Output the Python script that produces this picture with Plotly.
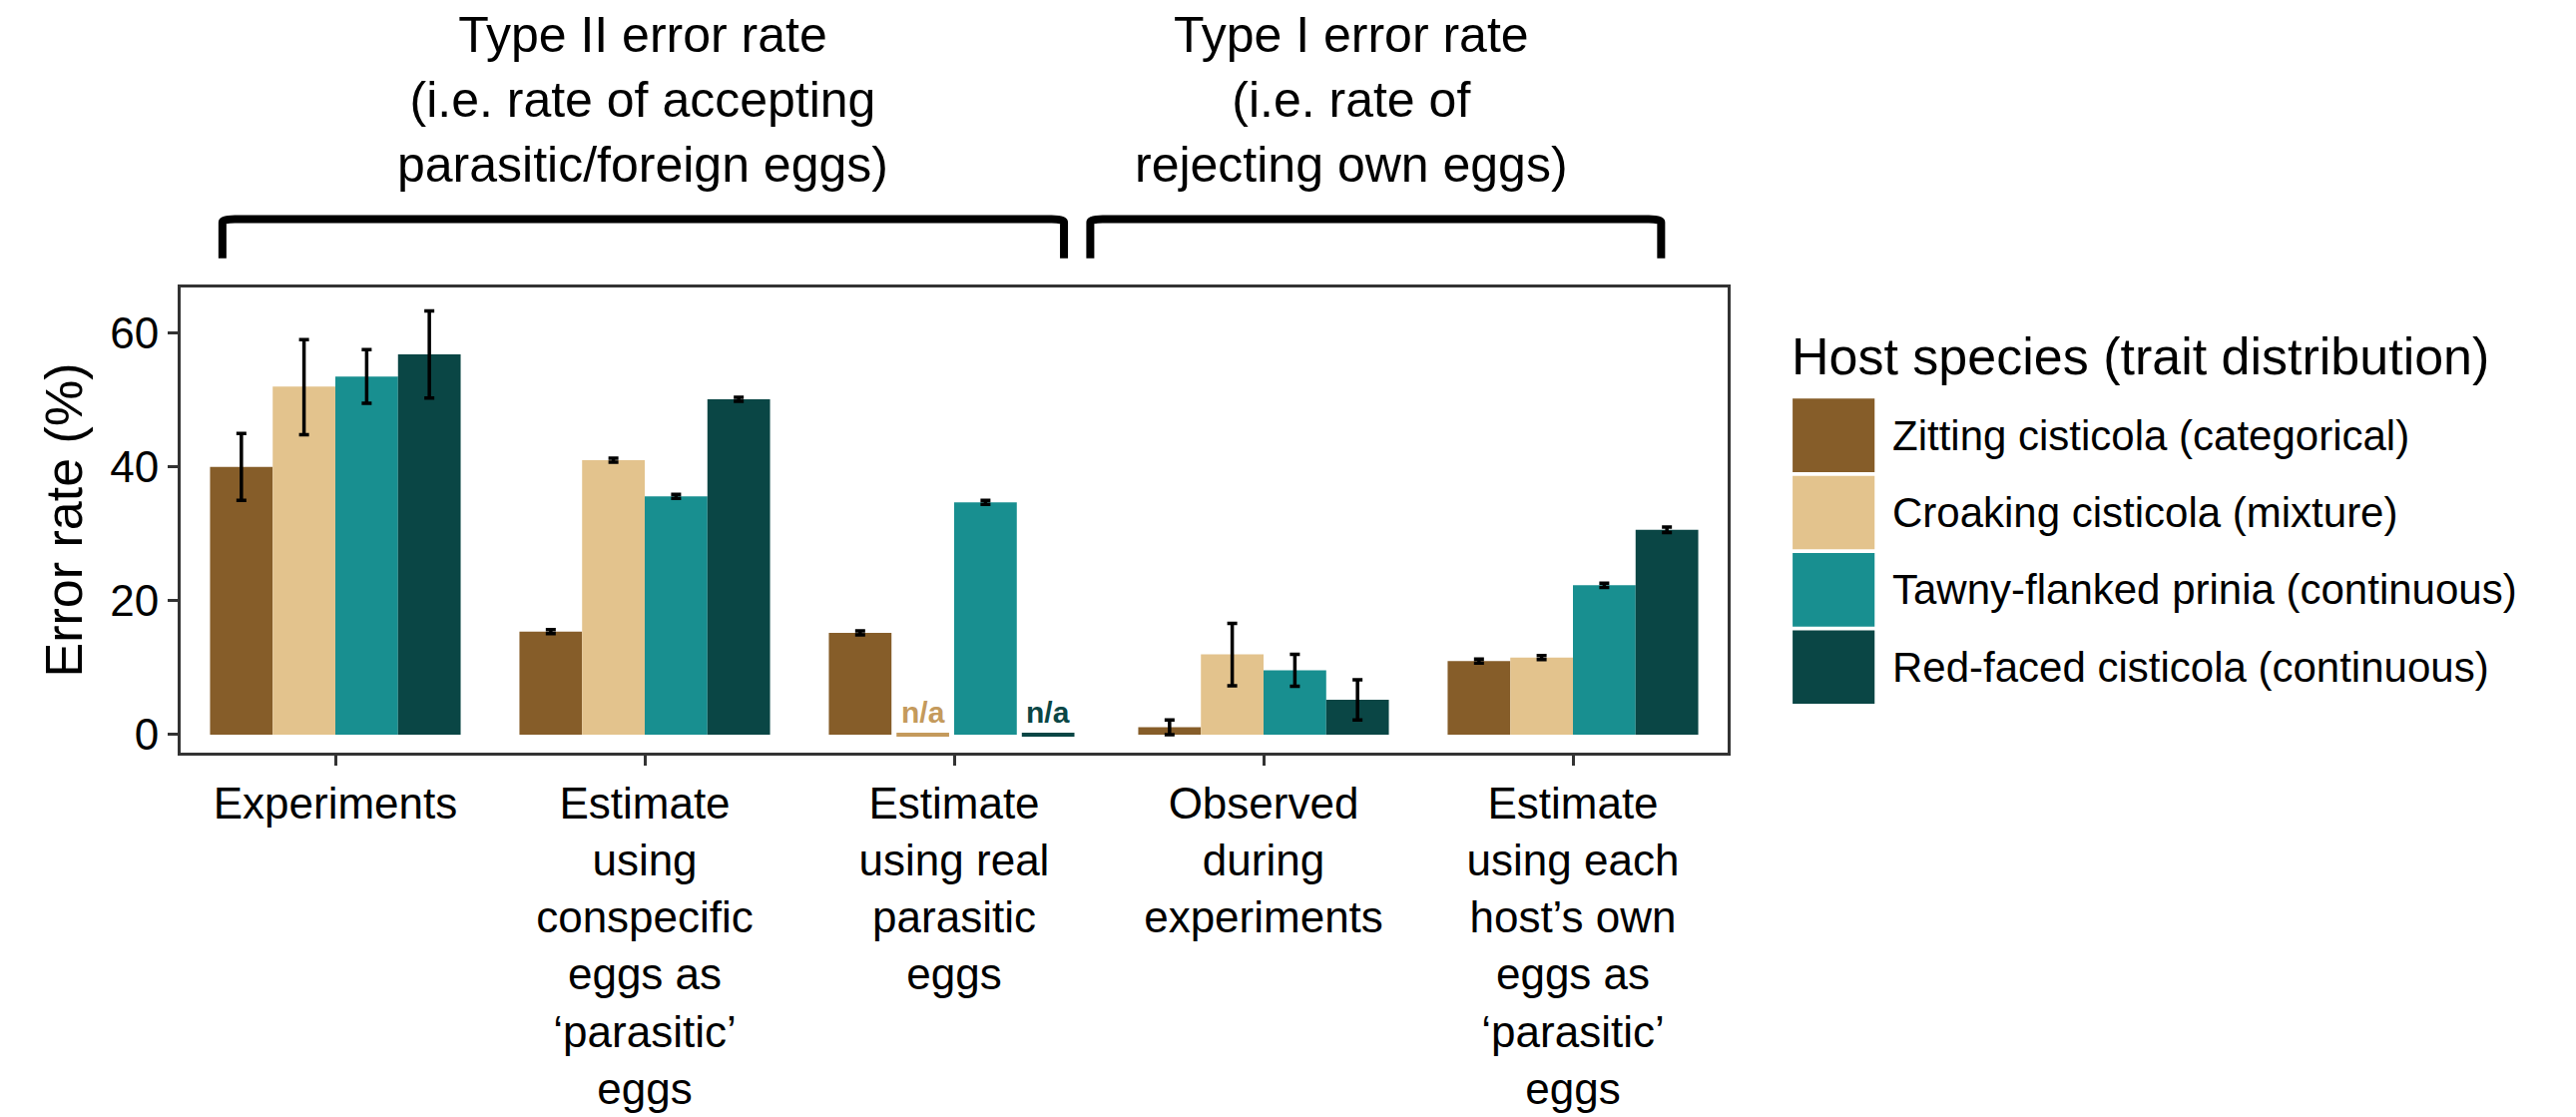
import plotly.graph_objects as go

categories = ["Experiments",
              "Estimate<br>using<br>conspecific<br>eggs as<br>\u2018parasitic\u2019<br>eggs",
              "Estimate<br>using real<br>parasitic<br>eggs",
              "Observed<br>during<br>experiments",
              "Estimate<br>using each<br>host\u2019s own<br>eggs as<br>\u2018parasitic\u2019<br>eggs"]
species = ["Zitting cisticola (categorical)", "Croaking cisticola (mixture)",
           "Tawny-flanked prinia (continuous)", "Red-faced cisticola (continuous)"]
colors = ["#865d29", "#e3c38d", "#188f90", "#0a4645"]

zitting = [40.0, 15.4, 15.2, 1.1, 11.0]
zitting_lo = [35.0, 15.1, 14.9, 0.0, 10.7]
zitting_hi = [45.0, 15.7, 15.5, 2.2, 11.3]
croaking = [52.0, 41.0, None, 12.0, 11.5]
croaking_lo = [44.8, 40.7, None, 7.3, 11.2]
croaking_hi = [59.0, 41.3, None, 16.6, 11.8]
tawny = [53.5, 35.6, 34.7, 9.6, 22.3]
tawny_lo = [49.5, 35.3, 34.4, 7.2, 22.0]
tawny_hi = [57.5, 35.9, 35.0, 12.0, 22.6]
redfaced = [56.8, 50.1, None, 5.2, 30.6]
redfaced_lo = [50.3, 49.8, None, 2.2, 30.2]
redfaced_hi = [63.3, 50.4, None, 8.2, 31.0]

series = [(zitting, zitting_lo, zitting_hi), (croaking, croaking_lo, croaking_hi),
          (tawny, tawny_lo, tawny_hi), (redfaced, redfaced_lo, redfaced_hi)]

FONT = "Liberation Sans, Arial, sans-serif"
fig = go.Figure()
for name, col, (v, lo, hi) in zip(species, colors, series):
    plus = [None if a is None else h - a for a, h in zip(v, hi)]
    minus = [None if a is None else a - l for a, l in zip(v, lo)]
    fig.add_trace(go.Bar(x=categories, y=v, name=name, marker_color=col,
                         marker_line_width=0, showlegend=False,
                         error_y=dict(type="data", array=plus, arrayminus=minus,
                                      color="black", thickness=3.5, width=5)))

bw = (1 - 0.19) / 4
na_colors = ["#c49a5c", colors[3]]
for k, col in zip([1, 3], na_colors):
    xc = 2 + (k - 1.5) * bw
    fig.add_annotation(x=xc, y=0, yanchor="bottom", text="<b>n/a</b>", showarrow=False,
                       font=dict(size=30, color=col, family=FONT), yshift=4)
    fig.add_shape(type="line", x0=xc - 0.085, x1=xc + 0.085, y0=0, y1=0,
                  line=dict(color=col, width=4))

# brackets
for x0, x1 in [(0.027, 0.571), (0.588, 0.957)]:
    fig.add_shape(type="path", xref="paper", yref="paper",
                  path=f"M {x0} 1.063 L {x0} 1.14 Q {x0} 1.147 {x0+0.008} 1.147 "
                       f"L {x1-0.008} 1.147 Q {x1} 1.147 {x1} 1.14 L {x1} 1.063",
                  line=dict(color="black", width=8))
fig.add_annotation(x=0.299, y=1.2, xref="paper", yref="paper", yanchor="bottom", xanchor="center",
                   text="Type II error rate<br>(i.e. rate of accepting<br>parasitic/foreign eggs)",
                   showarrow=False, font=dict(size=50, color="black", family=FONT))
fig.add_annotation(x=0.757, y=1.2, xref="paper", yref="paper", yanchor="bottom", xanchor="center",
                   text="Type I error rate<br>(i.e. rate of<br>rejecting own eggs)",
                   showarrow=False, font=dict(size=50, color="black", family=FONT))

# legend drawn by hand (large keys)
fig.add_annotation(x=1.04, y=0.853, xref="paper", yref="paper", xanchor="left", yanchor="middle",
                   text="Host species (trait distribution)", showarrow=False,
                   font=dict(size=52, color="black", family=FONT))
for i, (name, col) in enumerate(zip(species, colors)):
    top = 0.761 - i * 0.166
    fig.add_shape(type="rect", xref="paper", yref="paper", x0=1.042, x1=1.095,
                  y0=top - 0.158, y1=top, fillcolor=col, line_width=0)
    fig.add_annotation(x=1.105, y=top - 0.079, xref="paper", yref="paper", xanchor="left",
                       yanchor="middle", text=name, showarrow=False,
                       font=dict(size=42, color="black", family=FONT))

fig.update_layout(
    width=2581, height=1119, barmode="group", bargap=0.19, bargroupgap=0,
    plot_bgcolor="white", paper_bgcolor="white",
    margin=dict(l=173, r=858, t=280, b=370),
    font=dict(family=FONT, color="black"),
    showlegend=False,
)
fig.update_xaxes(showline=True, mirror=True, linecolor="#333333", linewidth=3,
                 ticks="outside", ticklen=10, tickwidth=3, tickcolor="#333333",
                 tickfont=dict(size=44, color="black"))
fig.update_yaxes(range=[-2.7, 66.8], tickvals=[0, 20, 40, 60], showgrid=False, zeroline=False,
                 showline=True, mirror=True, linecolor="#333333", linewidth=3,
                 ticks="outside", ticklen=10, tickwidth=3, tickcolor="#333333",
                 tickfont=dict(size=44, color="black"),
                 title=dict(text="Error rate (%)", font=dict(size=52), standoff=12))
fig.write_html("out.html")
